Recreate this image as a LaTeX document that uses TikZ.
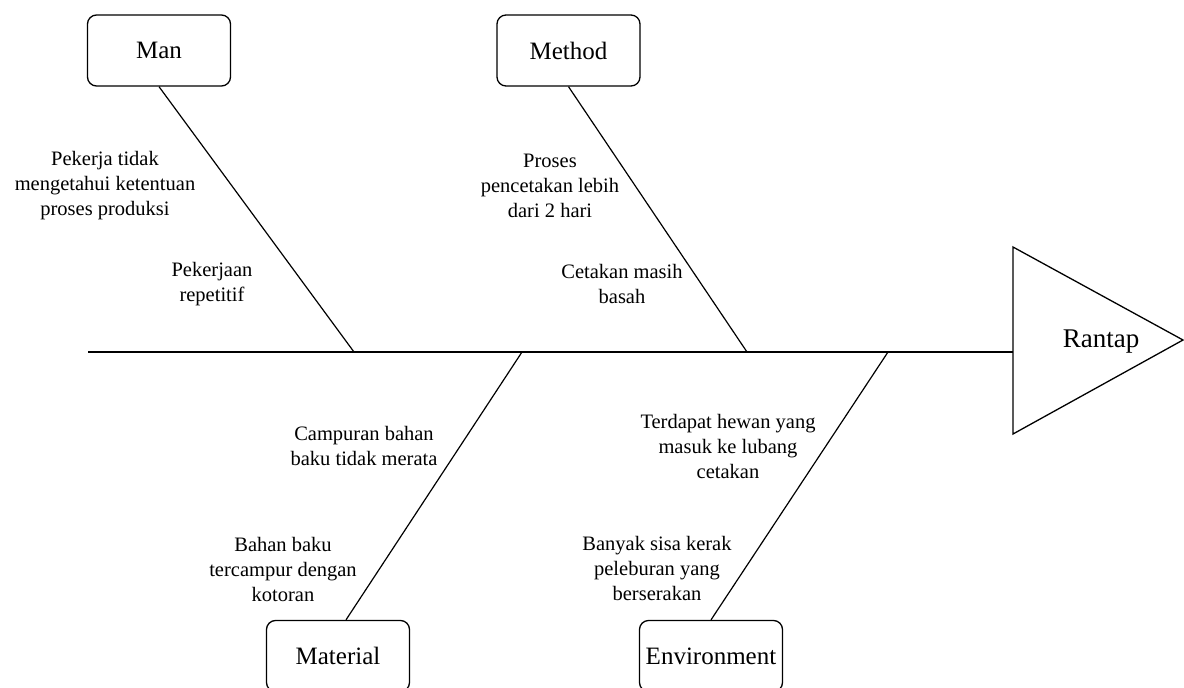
\documentclass[tikz,border=0pt]{standalone}
\usepackage{fontspec}
\setmainfont{Liberation Serif}
\begin{document}
\begin{tikzpicture}[x=1pt,y=-1pt,
  category/.style={draw,rounded corners=9pt,line width=1.3pt,minimum width=143pt,minimum height=71pt,inner sep=0pt,font=\fontsize{25}{30}\selectfont},
  cause/.style={align=center,inner sep=0pt,font=\fontsize{20.5}{25}\selectfont},
  bone/.style={line width=1.2pt},
  spine/.style={line width=1.5pt}]
\useasboundingbox (0,0) rectangle (1184,688);

% category boxes
\node[category] (man) at (159,50.5) {Man};
\node[category] (method) at (568.5,50.5) {Method};
\node[category] (material) at (338,656) {Material};
\node[category] (environment) at (711,656) {Environment};

% head of the fish
\coordinate (htop) at (1013,247);
\coordinate (htip) at (1183,340);
\coordinate (hbot) at (1013,434);
\draw[line width=1.3pt,line join=miter] (htop) -- (htip) -- (hbot) -- cycle;
\node[font=\fontsize{27}{32}\selectfont] (effect) at (1101,342) {Rantap};

% spine and joints
\coordinate (tail) at (88,352);
\coordinate (head) at (1013,352);
\coordinate (jman) at (354,352);
\coordinate (jmethod) at (747,352);
\coordinate (jmaterial) at (522,352);
\coordinate (jenv) at (888,352);
\draw[spine] (tail) -- (head);

% bones
\draw[bone] (man.south) -- (jman);
\draw[bone] (method.south) -- (jmethod);
\draw[bone] ([xshift=8pt]material.north) -- (jmaterial);
\draw[bone] (environment.north) -- (jenv);

% causes
\node[cause] (c1) at (105,186) {Pekerja tidak\\mengetahui ketentuan\\proses produksi};
\node[cause] (c2) at (212,284) {Pekerjaan\\repetitif};
\node[cause] (c3) at (550,186) {Proses\\pencetakan lebih\\dari 2 hari};
\node[cause] (c4) at (622,284) {Cetakan masih\\basah};
\node[cause] (c5) at (364,446) {Campuran bahan\\baku tidak merata};
\node[cause] (c6) at (283,569) {Bahan baku\\tercampur dengan\\kotoran};
\node[cause] (c7) at (728,446) {Terdapat hewan yang\\masuk ke lubang\\cetakan};
\node[cause] (c8) at (657,568) {Banyak sisa kerak\\peleburan yang\\berserakan};
\end{tikzpicture}
\end{document}
